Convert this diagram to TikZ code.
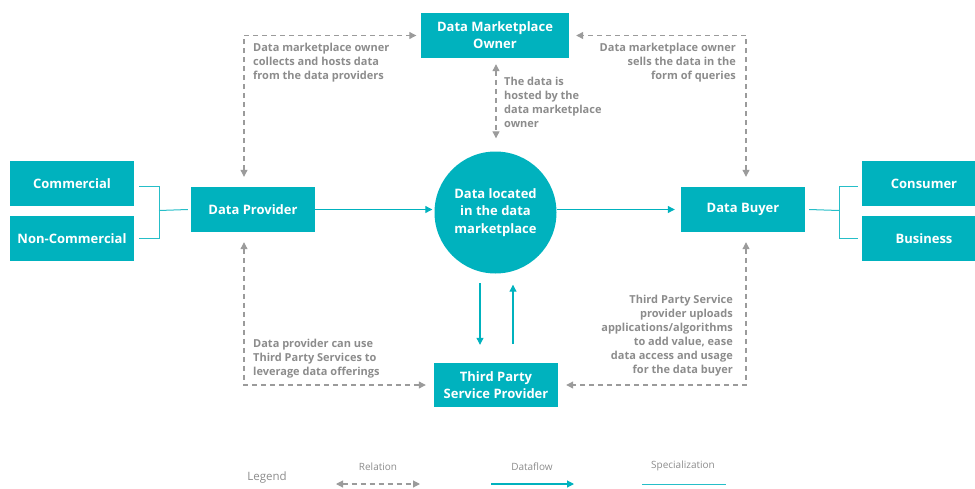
\documentclass[tikz,border=0pt]{standalone}
\usepackage{fontspec}
\setmainfont{Open Sans}
\usetikzlibrary{arrows.meta}
\definecolor{tealc}{RGB}{0,178,190}
\definecolor{grayt}{RGB}{140,140,140}
\definecolor{grayl}{RGB}{155,155,155}
\tikzset{
  box/.style={fill=tealc, text=white, font=\bfseries\fontsize{13}{17}\selectfont,
    minimum width=124pt, minimum height=45pt, inner sep=0pt, align=center},
  rel/.style={draw=grayl, line width=1.1pt, dash pattern=on 5pt off 4pt,
    {Triangle[length=7pt,width=7pt]}-{Triangle[length=7pt,width=7pt]}},
  flow/.style={draw=tealc, line width=1.1pt, -{Triangle[length=7pt,width=7pt]}},
  spec/.style={draw=tealc!85, line width=1pt},
  lbl/.style={text=grayt, font=\bfseries\fontsize{11}{14}\selectfont, inner sep=0pt},
  leg/.style={text=grayt, font=\fontsize{10}{12}\selectfont, inner sep=0pt},
}
\begin{document}
\begin{tikzpicture}[x=1pt,y=-1pt]
\useasboundingbox (0,0) rectangle (975,488);
% nodes
\node[box, minimum width=148pt] (dmo) at (495,35.5) {Data Marketplace\\Owner};
\node[box] (com) at (72,183.5) {Commercial};
\node[box] (ncom) at (72,238.5) {Non-Commercial};
\node[box] (dp) at (253,209.5) {Data Provider};
\node[box] (db) at (743,209.5) {Data Buyer};
\node[box] (cons) at (924,183.5) {Consumer};
\node[box] (bus) at (924,238.5) {Business};
\node[circle, fill=tealc, text=white, minimum size=122pt, inner sep=0pt, align=center,
  font=\bfseries\fontsize{13}{17.5}\selectfont] (dl) at (495.5,212.5) {Data located\\in the data\\marketplace};
\node[box, minimum height=44pt] (tp) at (496,385) {Third Party\\Service Provider};
% specialization brackets
\coordinate (lj) at (159,210.5);
\coordinate (rj) at (839,210.5);
\draw[spec] ([xshift=5pt,yshift=-2.5pt]com.east) -| (lj);
\draw[spec] ([xshift=5pt]ncom.east) -| (lj);
\draw[spec] (lj) -- ([xshift=-3pt]dp.west);
\draw[spec] ([xshift=4pt]db.east) -- (rj);
\draw[spec] ([xshift=-4pt,yshift=-2.5pt]cons.west) -| (rj);
\draw[spec] ([xshift=-4pt]bus.west) -| (rj);
% dataflow
\draw[flow] (dp.east) -- ([xshift=-2pt]dl.west |- dp.east);
\draw[flow] (dl.east |- db.west) -- ([xshift=-6pt]db.west);
\coordinate (fd1) at (480,283);
\coordinate (fu1) at (513,344);
\draw[flow] (fd1) -- ([yshift=18pt]tp.north -| fd1);
\draw[flow] (fu1) -- ([yshift=-11pt]dl.south -| fu1);
% relations
\draw[rel, shorten <=10pt, shorten >=4.5pt] ([xshift=-9pt]dp.north) |- (dmo.west);
\draw[rel, shorten <=10pt, shorten >=7pt] ([xshift=3pt]db.north) |- (dmo.east);
\draw[rel, shorten <=6pt, shorten >=13pt] ([xshift=1pt]dmo.south) -- ([xshift=0.5pt]dl.north);
\draw[rel, shorten <=10pt, shorten >=8pt] ([xshift=-9pt]dp.south) |- (tp.west);
\draw[rel, shorten <=10pt, shorten >=8pt] ([xshift=3pt]db.south) |- (tp.east);
% labels
\node[lbl, anchor=north west, align=left] (l1) at (253,43) {Data marketplace owner\\collects and hosts data\\from the data providers};
\node[lbl, anchor=north east, align=right] (l2) at (736,43) {Data marketplace owner\\sells the data in the\\form of queries};
\node[lbl, anchor=north west, align=left] (l3) at (504,77) {The data is\\hosted by the\\data marketplace\\owner};
\node[lbl, anchor=north west, align=left] (l4) at (253,339) {Data provider can use\\Third Party Services to\\leverage data offerings};
\node[lbl, anchor=north east, align=right] (l5) at (733,295) {Third Party Service\\provider uploads\\applications/algorithms\\to add value, ease\\data access and usage\\for the data buyer};
% legend
\node[leg, font=\fontsize{11.5}{13}\selectfont] (lg) at (267,478) {Legend};
\node[leg] (lr) at (378,467) {Relation};
\node[leg] (lf) at (532,467) {Dataflow};
\node[leg] (ls) at (683,466) {Specialization};
\coordinate (r1) at (336,484);
\coordinate (r2) at (420,484);
\coordinate (f1) at (491,484);
\coordinate (f2) at (574,484);
\coordinate (s1) at (642,484);
\coordinate (s2) at (726,484);
\draw[rel] (r1) -- (r2);
\draw[flow] (f1) -- (f2);
\draw[spec] (s1) -- (s2);
\end{tikzpicture}
\end{document}
